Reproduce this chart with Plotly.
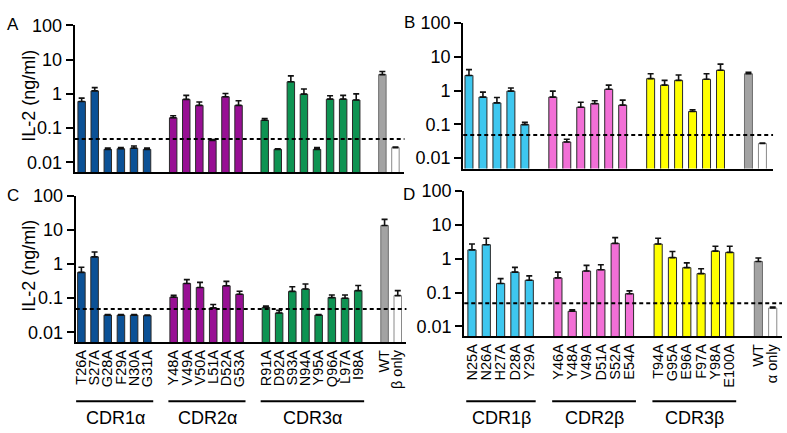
import plotly.graph_objects as go

# ---------------- data ----------------
alpha_cdr1 = ["T26A", "S27A", "G28A", "F29A", "N30A", "G31A"]
alpha_cdr2 = ["Y48A", "V49A", "V50A", "L51A", "D52A", "G53A"]
alpha_cdr3 = ["R91A", "D92A", "S93A", "N94A", "Y95A", "Q96A", "L97A", "I98A"]
alpha_ctrl = ["WT", "β only"]
beta_cdr1 = ["N25A", "N26A", "H27A", "D28A", "Y29A"]
beta_cdr2 = ["Y46A", "Y48A", "V49A", "D51A", "S52A", "E54A"]
beta_cdr3 = ["T94A", "G95A", "E96A", "F97A", "Y98A", "E100A"]
beta_ctrl = ["WT", "α only"]

group_names_alpha = ["CDR1α", "CDR2α", "CDR3α"]
group_names_beta = ["CDR1β", "CDR2β", "CDR3β"]

# Panel A (mean, mean+SEM)
A_cdr1 = [0.60, 1.22, 0.024, 0.025, 0.026, 0.024]
A_cdr1_hi = [0.75, 1.52, 0.026, 0.027, 0.030, 0.026]
A_cdr2 = [0.20, 0.69, 0.46, 0.044, 0.82, 0.46]
A_cdr2_hi = [0.23, 0.90, 0.58, 0.046, 1.02, 0.63]
A_cdr3 = [0.17, 0.024, 2.25, 0.98, 0.024, 0.70, 0.70, 0.66]
A_cdr3_hi = [0.19, 0.025, 3.34, 1.39, 0.027, 0.88, 0.90, 1.00]
A_ctrl = [3.65, 0.027]
A_ctrl_hi = [4.5, 0.028]

# Panel B
B_cdr1 = [2.8, 0.64, 0.43, 0.96, 0.098]
B_cdr1_hi = [4.16, 0.90, 0.62, 1.19, 0.114]
B_cdr2 = [0.64, 0.030, 0.32, 0.41, 1.09, 0.37]
B_cdr2_hi = [0.96, 0.036, 0.45, 0.50, 1.45, 0.52]
B_cdr3 = [2.25, 1.45, 2.0, 0.24, 2.15, 3.98]
B_cdr3_hi = [3.13, 2.0, 2.87, 0.27, 3.13, 6.04]
B_ctrl = [3.13, 0.027]
B_ctrl_hi = [3.49, 0.028]

# Panel C
C_cdr1 = [0.57, 1.62, 0.032, 0.032, 0.032, 0.031]
C_cdr1_hi = [0.80, 2.25, 0.033, 0.033, 0.033, 0.032]
C_cdr2 = [0.107, 0.27, 0.206, 0.052, 0.23, 0.13]
C_cdr2_hi = [0.122, 0.35, 0.29, 0.065, 0.31, 0.16]
C_cdr3 = [0.054, 0.037, 0.158, 0.185, 0.032, 0.104, 0.10, 0.166]
C_cdr3_hi = [0.059, 0.044, 0.216, 0.26, 0.033, 0.124, 0.124, 0.235]
C_ctrl = [13.3, 0.119]
C_ctrl_hi = [20.2, 0.166]

# Panel D
D_cdr1 = [1.81, 2.57, 0.185, 0.40, 0.23]
D_cdr1_hi = [2.68, 3.98, 0.257, 0.55, 0.31]
D_cdr2 = [0.27, 0.028, 0.43, 0.47, 2.8, 0.092]
D_cdr2_hi = [0.40, 0.031, 0.63, 0.66, 4.16, 0.112]
D_cdr3 = [2.68, 1.07, 0.54, 0.36, 1.66, 1.52]
D_cdr3_hi = [3.98, 1.62, 0.75, 0.50, 2.3, 2.3]
D_ctrl = [0.82, 0.035]
D_ctrl_hi = [1.04, 0.037]

detection_limit = 0.048

# ---------------- styling ----------------
W, H = 787, 433
FONT = "Liberation Sans, Arial, Helvetica, sans-serif"
alpha_colors = ["#0b5196", "#980f94", "#0e9352"]
beta_colors = ["#3ec7ef", "#f26fd6", "#ffff00"]
ctrl_colors = ["#a3a3a3", "#ffffff"]
ctrl_lines = ["#6e6e6e", "#8a8a8a"]

alpha_order = alpha_cdr1 + ["g1"] + alpha_cdr2 + ["g2"] + alpha_cdr3 + ["g3"] + alpha_ctrl
beta_order = beta_cdr1 + ["g1"] + beta_cdr2 + ["g2"] + beta_cdr3 + ["g3"] + beta_ctrl


def ticktext(order):
    return ["" if c in ("g1", "g2", "g3") else c for c in order]


# pixel boxes: (left, right, top, bottom)
panels = {
    "A": dict(box=(72, 403, 15.7, 166), ybot=-2.286, xr=(-0.53, 24.69)),
    "B": dict(box=(462, 773, 13.3, 162.3), ybot=-2.31, xr=(-0.41, 21.76)),
    "C": dict(box=(73, 405, 190, 340), ybot=-2.286, xr=(-0.43, 24.66)),
    "D": dict(box=(463, 782, 185, 334), ybot=-2.29, xr=(-0.54, 21.65)),
}

fig = go.Figure()


def add_bars(xname, yname, labels, vals, hi, color, line_color="#2a2a2a"):
    fig.add_trace(go.Bar(
        x=labels, y=vals, xaxis=xname, yaxis=yname,
        marker=dict(color=color, line=dict(color=line_color, width=1)),
        error_y=dict(type="data", symmetric=False,
                     array=[h - v for h, v in zip(hi, vals)],
                     arrayminus=[0] * len(vals),
                     color="#111111", thickness=1.6, width=3),
        showlegend=False,
    ))


panel_data = [
    ("A", "x", "y", [alpha_cdr1, alpha_cdr2, alpha_cdr3],
     [(A_cdr1, A_cdr1_hi), (A_cdr2, A_cdr2_hi), (A_cdr3, A_cdr3_hi)], alpha_colors,
     alpha_ctrl, (A_ctrl, A_ctrl_hi), alpha_order, False),
    ("B", "x2", "y2", [beta_cdr1, beta_cdr2, beta_cdr3],
     [(B_cdr1, B_cdr1_hi), (B_cdr2, B_cdr2_hi), (B_cdr3, B_cdr3_hi)], beta_colors,
     beta_ctrl, (B_ctrl, B_ctrl_hi), beta_order, False),
    ("C", "x3", "y3", [alpha_cdr1, alpha_cdr2, alpha_cdr3],
     [(C_cdr1, C_cdr1_hi), (C_cdr2, C_cdr2_hi), (C_cdr3, C_cdr3_hi)], alpha_colors,
     alpha_ctrl, (C_ctrl, C_ctrl_hi), alpha_order, True),
    ("D", "x4", "y4", [beta_cdr1, beta_cdr2, beta_cdr3],
     [(D_cdr1, D_cdr1_hi), (D_cdr2, D_cdr2_hi), (D_cdr3, D_cdr3_hi)], beta_colors,
     beta_ctrl, (D_ctrl, D_ctrl_hi), beta_order, True),
]

layout = dict(
    width=W, height=H, margin=dict(l=0, r=0, t=0, b=0),
    paper_bgcolor="white", plot_bgcolor="white",
    barmode="overlay", bargap=0.43,
    font=dict(family=FONT, color="black"),
    shapes=[], annotations=[],
)

for (name, xa, ya, groups, gvals, colors, ctrl, cvals, order, show_ticks) in panel_data:
    for labels, (v, hi), col in zip(groups, gvals, colors):
        add_bars(xa, ya, labels, v, hi, col)
    for lab, v, hi, col, lc in zip(ctrl, cvals[0], cvals[1], ctrl_colors, ctrl_lines):
        add_bars(xa, ya, [lab], [v], [hi], col, lc)

    p = panels[name]
    l, r, t, b = p["box"]
    xkey = "xaxis" + xa[1:]
    ykey = "yaxis" + ya[1:]
    layout[xkey] = dict(
        domain=[l / W, r / W], anchor=ya, type="category",
        categoryorder="array", categoryarray=order,
        tickmode="array", tickvals=order, ticktext=ticktext(order),
        range=list(p["xr"]), showline=True, linecolor="black", linewidth=2.2,
        ticks="", showgrid=False, zeroline=False,
        showticklabels=show_ticks, tickangle=-90,
        tickfont=dict(size=14.5, family=FONT, color="black"),
    )
    layout[ykey] = dict(
        domain=[1 - b / H, 1 - t / H], anchor=xa, type="log",
        range=[p["ybot"], 2],
        tickmode="array", tickvals=[0.01, 0.1, 1, 10, 100],
        ticktext=["0.01", "0.1", "1", "10", "100"],
        ticks="outside", ticklen=7, tickwidth=2, tickcolor="black",
        showline=True, linecolor="black", linewidth=2.2,
        showgrid=False, zeroline=False,
        tickfont=dict(size=18, family=FONT, color="black"),
    )
    # detection limit line
    layout["shapes"].append(dict(
        type="line", xref=xa + " domain", yref=ya, x0=0, x1=1,
        y0=detection_limit, y1=detection_limit,
        line=dict(color="black", width=2, dash="4px,3px"), layer="above"))

# panel letters
for letter, (px, py) in {"A": (10, 15), "B": (408, 13), "C": (10, 190), "D": (408, 189)}.items():
    layout["annotations"].append(dict(
        text=letter, x=px / W, y=1 - py / H, xref="paper", yref="paper",
        showarrow=False, xanchor="center", yanchor="middle",
        font=dict(size=17, family=FONT, color="black")))

# y-axis titles
for cy in (88, 262):
    layout["annotations"].append(dict(
        text="IL-2 (ng/ml)", x=26 / W, y=1 - cy / H, xref="paper", yref="paper",
        showarrow=False, textangle=-90, xanchor="center", yanchor="middle",
        font=dict(size=18, family=FONT, color="black")))

# group brackets below bottom panels
for xa, groups, gnames in (("x3", [alpha_cdr1, alpha_cdr2, alpha_cdr3], group_names_alpha),
                           ("x4", [beta_cdr1, beta_cdr2, beta_cdr3], group_names_beta)):
    order = alpha_order if xa == "x3" else beta_order
    for labels, gname in zip(groups, gnames):
        i0 = order.index(labels[0])
        i1 = order.index(labels[-1])
        layout["shapes"].append(dict(
            type="line", xref=xa, yref="paper", x0=i0 - 0.4, x1=i1 + 0.45,
            y0=1 - 400.5 / H, y1=1 - 400.5 / H, line=dict(color="black", width=2)))
        layout["annotations"].append(dict(
            text=gname, x=(i0 + i1) / 2 + 0.05, y=1 - 418 / H, xref=xa, yref="paper",
            showarrow=False, xanchor="center", yanchor="middle",
            font=dict(size=18, family=FONT, color="black")))

fig.update_layout(**layout)
fig.write_html("out.html",
               config={"displayModeBar": False},
               post_script="document.body.style.margin='0';document.body.style.overflow='hidden';")
